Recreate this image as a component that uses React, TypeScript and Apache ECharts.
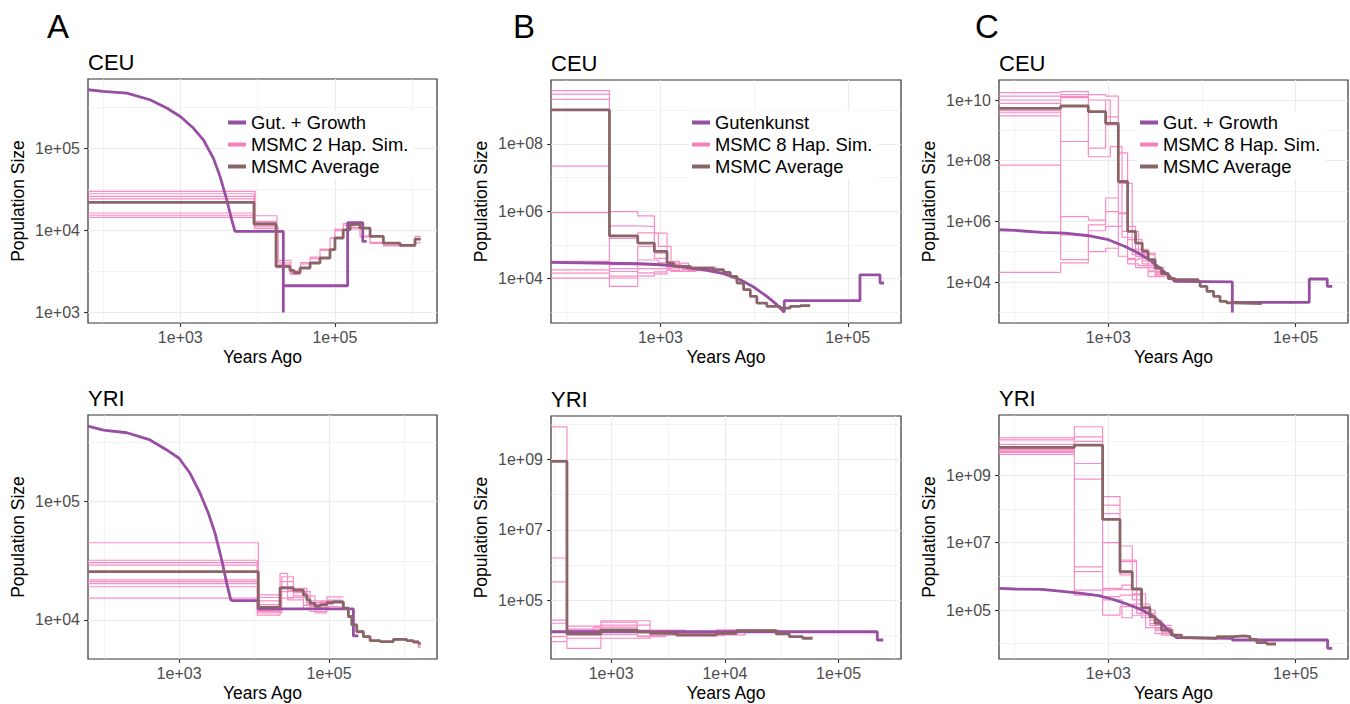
import React, { useEffect, useRef } from 'react';
import * as echarts from 'echarts';

// ================= DATA (years ago, population size) =================
// ---------- Panel A, CEU ----------
const aCeuGrowthT = [64, 100, 203, 405, 667, 1000, 1473, 1986, 2673, 3266, 3985, 4625, 5100, 21500, 21500, 21500, 146000, 146000, 229000, 229000, 257000];
const aCeuGrowthN = [512000, 490000, 467000, 387000, 307000, 242000, 175000, 126000, 75500, 45200, 23500, 13400, 9660, 9660, 1000, 2110, 2110, 12400, 12400, 7300, 7300];
const aCeuAvgT = [64, 8970, 17300, 26200, 29500, 35400, 47700, 64100, 86400, 100000, 128000, 157000, 173000, 211000, 285000, 423000, 696000, 1086000, 1288000];
const aCeuAvgN = [21800, 11900, 3630, 3240, 3050, 3470, 3990, 4590, 5800, 8040, 10100, 11700, 11900, 10600, 8400, 6980, 6530, 7810];
const aCeuRepT = [
  [64, 9300, 17800, 27000, 36000, 47700, 64100, 86400, 100000, 128000, 157000, 211000, 285000, 423000, 696000, 1086000, 1288000],
  [64, 9000, 17300, 26200, 36000, 47700, 64100, 86400, 100000, 128000, 157000, 211000, 285000, 423000, 696000, 1086000, 1288000],
  [64, 8970, 17300, 26200, 36000],
  [64, 9300, 18500, 27000, 36000],
  [64, 8970, 17300, 26200, 36000],
  [64, 9100, 17800, 26200, 36000],
  [64, 8970, 17300, 26200, 36000],
];
const aCeuRepN = [
  [29700, 15000, 4300, 3100, 3900, 4500, 5700, 8000, 10300, 12000, 10800, 8500, 7100, 6600, 6600, 8400],
  [27800, 12500, 3700, 3000, 4050, 4700, 5900, 8100, 9900, 11500, 10400, 8300, 6900, 6450, 6450, 7000],
  [25800, 11600, 3600, 3100],
  [24000, 11000, 4000, 2900],
  [16200, 12800, 3500, 3200],
  [15200, 10500, 3800, 3000],
  [14300, 11900, 3550, 3100],
];

// ---------- Panel A, YRI ----------
const aYriGrowthT = [61, 98, 201, 410, 685, 1000, 1400, 1905, 2460, 3020, 3710, 4320, 4890, 5100, 11300, 11300, 211000, 211000, 246000];
const aYriGrowthN = [436000, 403000, 383000, 333000, 274000, 233000, 174000, 118000, 79800, 54000, 32100, 20400, 14800, 14600, 14600, 12400, 12400, 7330, 7330];
const aYriAvgT = [61, 11400, 22200, 33400, 45400, 50500, 55800, 65000, 75800, 93100, 114000, 155000, 181000, 201000, 234000, 287000, 352000, 479000, 720000, 1086000, 1330000, 1552000, 1670000];
const aYriAvgN = [25600, 12800, 18700, 17900, 16300, 14800, 13800, 13100, 13400, 14000, 14200, 12600, 10700, 9080, 7960, 7230, 6690, 6570, 6870, 6690, 6500, 6350];
const aYriRepT = [
  [61, 11400, 22200, 28000, 50000, 95000, 150000, 181000, 201000, 234000, 287000, 352000, 479000, 720000, 1086000, 1552000, 1670000],
  [61, 11000, 23400, 33400, 55800, 93100, 140000, 181000, 201000, 234000, 287000, 352000, 479000, 720000, 1086000, 1552000, 1670000],
  [61, 11400, 22200, 28000, 45400, 75800, 114000],
  [61, 11400, 23400, 33400, 65000, 93100, 155000],
  [61, 11400, 22200, 28000, 55800, 75800, 114000],
  [61, 11000, 22200, 33400, 50500, 75800, 114000],
  [61, 11400, 23400, 28000, 45400, 65000, 100000],
  [61, 11400, 22200, 33400, 55800, 93100, 140000],
  [61, 11400, 22200, 33400, 50500, 75800, 114000],
];
const aYriRepN = [
  [45000, 15500, 24800, 18500, 14000, 14700, 12800, 10900, 9200, 8100, 7300, 6750, 6600, 6900, 6700, 6100],
  [32000, 11500, 23200, 17400, 14500, 13000, 12400, 10500, 9000, 7800, 7150, 6650, 6500, 6800, 6650, 5870],
  [30500, 13500, 21100, 17800, 12400, 14200],
  [29100, 12000, 19100, 16000, 11500, 15700],
  [21800, 14500, 17400, 15500, 13000, 13800],
  [21100, 11000, 15300, 18500, 13500, 14000],
  [20300, 12500, 19100, 14800, 13300, 12800],
  [19100, 16300, 21100, 16000, 11800, 14500],
  [15300, 11800, 17400, 17000, 13500, 13600],
];

// ---------- Panel B, CEU ----------
const bCeuGutT = [68, 612, 1000, 1387, 3150, 4730, 7130, 9880, 13700, 17500, 21000, 21000, 135000, 135000, 221000, 221000, 244000];
const bCeuGutN = [30400, 27800, 26000, 24300, 17600, 14100, 9330, 5680, 2990, 1700, 1005, 2230, 2230, 13100, 13100, 7470, 7470];
const bCeuAvgT = [68, 286, 573, 863, 1178, 1387, 2090, 3700, 4730, 5570, 6570, 7730, 9120, 10700, 13700, 19000, 24300, 31100, 39700];
const bCeuAvgN = [1.02e9, 188000, 114000, 64400, 29200, 23200, 20700, 18500, 15400, 11700, 7470, 4720, 2990, 1900, 1510, 1350, 1510, 1585];
const bCeuRepT = [
  [68, 286, 573, 863, 1178, 1700, 3000],
  [68, 286, 573, 863, 1178, 1600, 3000],
  [68, 286, 573, 950, 1300, 2000, 3200],
  [68, 286, 573, 863, 1178, 2000, 3700],
  [68, 286, 573, 950, 1178, 1600, 4000],
  [68, 286, 573, 863, 1300, 2400, 4000],
  [68, 286, 573, 863, 1178, 2000, 3500],
  [68, 286, 573, 863, 1178, 1700, 3000],
  [68, 286, 573, 950, 1300, 2400, 3700],
];
const bCeuRepN = [
  [3.8e9, 986000, 736000, 226000, 26000, 19000],
  [3.0e9, 372000, 355000, 57500, 32600, 21000],
  [2.1e9, 158000, 230000, 90600, 23200, 17500],
  [2.2e7, 26000, 91000, 40000, 29200, 20000],
  [920000, 16400, 36000, 30000, 18000, 22000],
  [32600, 10500, 20000, 20000, 16400, 19000],
  [18300, 5900, 15000, 16000, 24000, 18000],
  [14600, 20000, 12000, 14000, 21000, 22000],
  [10400, 12000, 26000, 25000, 17000, 20000],
];

// ---------- Panel B, YRI ----------
const bYriGutT = [297, 219000, 219000, 247000];
const bYriGutN = [12600, 12600, 7340, 7340];
const bYriAvgT = [297, 409, 813, 1700, 2200, 3760, 8410, 12600, 28200, 36900, 48300, 59100];
const bYriAvgN = [8.95e8, 10900, 14100, 12600, 11400, 10200, 11400, 13500, 10900, 9120, 8230];
const bYriRepT = [
  [297, 409, 813, 1700, 3760, 12600, 28200],
  [297, 409, 813, 2200, 4500, 15000, 30000],
  [297, 409, 813, 1700, 3000, 8400, 25000],
  [297, 409, 813, 2200, 3760, 10000, 28200],
  [297, 409, 813, 1700, 4500, 12600, 30000],
  [297, 409, 813, 2200, 3760, 8400, 25000],
  [297, 409, 700, 1700, 3000, 10000, 28200],
  [297, 409, 813, 2200, 4500, 15000, 30000],
];
const bYriRepN = [
  [8.5e9, 18200, 23600, 12600, 11000, 14500],
  [1.58e6, 14100, 19500, 10000, 12500, 13000],
  [330000, 10200, 12600, 9100, 10500, 14000],
  [27000, 8230, 8230, 11500, 9800, 13800],
  [22000, 4260, 10500, 14100, 11000, 12800],
  [12600, 11400, 25900, 12000, 9500, 14200],
  [9100, 12600, 17000, 9500, 10800, 13200],
  [6600, 15000, 14000, 13000, 10200, 14000],
];

// ---------- Panel C, CEU ----------
const cCeuGrowthT = [68, 101, 195, 345, 612, 1000, 1507, 2090, 2900, 3700, 4550, 5140, 21100, 21100, 21100, 140000, 140000, 218000, 218000, 246000];
const cCeuGrowthN = [530000, 502000, 431000, 412000, 336000, 248000, 149000, 90500, 48000, 25600, 15400, 10500, 10100, 1000, 2150, 2150, 12600, 12600, 7230, 7230];
const cCeuAvgT = [68, 310, 612, 936, 1279, 1607, 1954, 2303, 2665, 3160, 3700, 4365, 5180, 9120, 9550, 11300, 13300, 15600, 18400, 21700, 43500];
const cCeuAvgN = [5.34e9, 6.35e9, 4.12e9, 1.71e9, 2.06e7, 466000, 193000, 102000, 54600, 29100, 18900, 12900, 12000, 10500, 7230, 4950, 3390, 2320, 2050, 1950];
const cCeuRepT = [
  [68, 310, 612, 936, 1279, 1607, 1954, 2665, 4000],
  [68, 310, 612, 936, 1279, 1800, 2300, 3160, 4500],
  [68, 310, 612, 936, 1279, 1607, 2100, 2665, 4000],
  [68, 310, 612, 1050, 1400, 1800, 2300, 3160, 4500],
  [68, 310, 612, 936, 1279, 1607, 1954, 2665, 4000],
  [68, 310, 612, 936, 1279, 1607, 2100, 3160, 4500],
  [68, 310, 612, 936, 1400, 1800, 2300, 2665, 4000],
  [68, 310, 612, 936, 1279, 1607, 1954, 2665, 4000],
  [68, 310, 612, 1050, 1279, 1607, 2100, 3160, 4500],
];
const cCeuRepN = [
  [1.74e10, 1.9e10, 1.5e10, 1.35e10, 1.8e8, 6.8e5, 1.2e5, 2.5e4],
  [1.35e10, 1.5e10, 1.0e10, 2.8e9, 1.8e7, 2.5e5, 8.0e4, 2.0e4],
  [1.0e10, 1.2e10, 2.6e8, 1.5e9, 1.9e6, 5.5e4, 6.0e4, 3.0e4],
  [7.8e9, 4.3e8, 1.35e8, 2.9e8, 4.7e5, 1.2e5, 4.0e4, 1.8e4],
  [3.8e9, 1.44e6, 1.1e6, 5.9e6, 1.8e6, 2.5e5, 7.0e4, 2.2e4],
  [2.98e9, 3.6e5, 7.7e5, 2.1e6, 7.1e4, 4.0e4, 3.5e4, 1.6e4],
  [7.2e7, 5.5e4, 4.9e5, 6.8e5, 3.0e5, 8.0e4, 5.0e4, 2.5e4],
  [20900, 4.3e4, 1.0e5, 1.3e5, 7.1e4, 6.0e4, 3.0e4, 1.5e4],
  [4.5e9, 1.3e10, 1.0e10, 1.5e9, 2.0e7, 4.7e5, 9.0e4, 2.0e4],
];

// ---------- Panel C, YRI ----------
const cYriGrowthT = [68, 101, 195, 345, 519, 782, 1084, 1507, 2090, 2900, 3700, 4550, 5350, 21100, 21100, 220000, 220000, 246000];
const cYriGrowthN = [440000, 419000, 410000, 349000, 313000, 265000, 212000, 158000, 112000, 71100, 40300, 22800, 15100, 14500, 12900, 12900, 7330, 7330];
const cYriAvgT = [68, 434, 869, 1333, 1803, 2266, 2780, 3160, 3700, 4730, 6040, 7480, 14400, 21700, 27700, 32700, 38500, 49200, 61800];
const cYriAvgN = [6.6e9, 7.74e9, 4.86e7, 1.36e6, 419000, 117000, 63200, 40300, 25500, 18100, 15100, 14500, 16200, 17000, 16200, 13500, 10800, 9840];
const cYriRepT = [
  [68, 434, 869, 1333, 1803, 2266, 3160, 4730],
  [68, 434, 869, 1333, 2000, 2780, 3700, 5000],
  [68, 434, 869, 1333, 1803, 2266, 3160, 4730],
  [68, 434, 869, 1400, 1803, 2500, 3160, 4730],
  [68, 434, 869, 1333, 2000, 2780, 3700, 5000],
  [68, 434, 869, 1333, 1803, 2266, 3160, 4730],
  [68, 434, 869, 1400, 1803, 2500, 3700, 5000],
  [68, 434, 869, 1333, 1803, 2266, 3160, 4730],
  [68, 434, 869, 1333, 2000, 2780, 3700, 5000],
];
const cYriRepN = [
  [1.26e10, 2.7e10, 2.3e8, 7.9e6, 4.0e5, 8.0e4, 3.0e4],
  [1.1e10, 1.35e10, 1.29e8, 2.7e6, 1.5e5, 5.0e4, 2.5e4],
  [8.1e9, 1.0e10, 7.2e7, 1.1e6, 2.75e5, 1.0e5, 3.5e4],
  [5.5e9, 2.2e9, 4.4e5, 5.5e5, 3.0e5, 6.0e4, 2.0e4],
  [4.7e9, 7.6e8, 2.5e5, 2.75e5, 1.0e5, 4.0e4, 2.2e4],
  [4.1e9, 1.9e6, 7.1e4, 1.26e5, 7.0e4, 6.0e4, 2.8e4],
  [7.0e9, 1.38e6, 2.0e5, 5.9e4, 1.5e5, 3.0e4, 2.0e4],
  [6.0e9, 3.9e5, 4.0e5, 4.0e5, 2.0e5, 7.0e4, 2.5e4],
  [5.0e9, 2.75e5, 1.0e7, 3.0e6, 8.0e4, 3.5e4, 1.8e4],
];

// tick labels / grid breaks
const xBreaksAC = [1e3, 1e5];
const xBreaksBYri = [1e3, 1e4, 1e5];

// ================= STYLE =================
const FONT = '"Liberation Sans", Arial, Helvetica, sans-serif';
const PURPLE = '#984EA3';
const PINK = '#F781BF';
const BROWN = '#8B6468';
const GRIDC = '#EBEBEB';

type Panel = {
  left: number; top: number; width: number; height: number;
  xRange: number[]; yRange: number[];
  xMajor: number[]; xMinor: number[]; yMajor: number[]; yMinor: number[];
  gutName: string; simName: string; title: string;
  gutT: number[]; gutN: number[]; avgT: number[]; avgN: number[];
  repT: number[][]; repN: number[][];
  legend?: { left: number; top: number };
};

const h = (e: number) => Math.pow(10, e);

const panels: Panel[] = [
  {
    left: 88, top: 79, width: 349, height: 244, title: 'CEU',
    xRange: [64, 2.09e6], yRange: [743, 6.92e5],
    xMajor: xBreaksAC, xMinor: [1e2, 1e4, 1e6], yMajor: [1e3, 1e4, 1e5], yMinor: [h(3.5), h(4.5), h(5.5)],
    gutName: 'Gut. + Growth', simName: 'MSMC 2 Hap. Sim.',
    gutT: aCeuGrowthT, gutN: aCeuGrowthN, avgT: aCeuAvgT, avgN: aCeuAvgN, repT: aCeuRepT, repN: aCeuRepN,
    legend: { left: 225, top: 110.5 },
  },
  {
    left: 551, top: 80, width: 350, height: 243, title: 'CEU',
    xRange: [68, 3.7e5], yRange: [486, 7.87e9],
    xMajor: xBreaksAC, xMinor: [1e2, 1e4], yMajor: [1e4, 1e6, 1e8], yMinor: [1e3, 1e5, 1e7, 1e9],
    gutName: 'Gutenkunst', simName: 'MSMC 8 Hap. Sim.',
    gutT: bCeuGutT, gutN: bCeuGutN, avgT: bCeuAvgT, avgN: bCeuAvgN, repT: bCeuRepT, repN: bCeuRepN,
    legend: { left: 689, top: 110.5 },
  },
  {
    left: 999, top: 80, width: 349, height: 243, title: 'CEU',
    xRange: [68, 3.63e5], yRange: [447, 4.57e10],
    xMajor: xBreaksAC, xMinor: [1e2, 1e4], yMajor: [1e4, 1e6, 1e8, 1e10], yMinor: [1e3, 1e5, 1e7, 1e9],
    gutName: 'Gut. + Growth', simName: 'MSMC 8 Hap. Sim.',
    gutT: cCeuGrowthT, gutN: cCeuGrowthN, avgT: cCeuAvgT, avgN: cCeuAvgN, repT: cCeuRepT, repN: cCeuRepN,
    legend: { left: 1137, top: 110.5 },
  },
  {
    left: 88, top: 415, width: 349, height: 244, title: 'YRI',
    xRange: [61, 2.75e6], yRange: [4680, 5.41e5],
    xMajor: xBreaksAC, xMinor: [1e2, 1e4, 1e6], yMajor: [1e4, 1e5], yMinor: [h(4.5), h(5.5)],
    gutName: 'Gut. + Growth', simName: 'MSMC 2 Hap. Sim.',
    gutT: aYriGrowthT, gutN: aYriGrowthN, avgT: aYriAvgT, avgN: aYriAvgN, repT: aYriRepT, repN: aYriRepN,
  },
  {
    left: 551, top: 416, width: 350, height: 243, title: 'YRI',
    xRange: [296, 3.54e5], yRange: [2110, 1.74e10],
    xMajor: xBreaksBYri, xMinor: [h(2.5), h(3.5), h(4.5), h(5.5)], yMajor: [1e5, 1e7, 1e9], yMinor: [1e4, 1e6, 1e8, 1e10],
    gutName: 'Gutenkunst', simName: 'MSMC 8 Hap. Sim.',
    gutT: bYriGutT, gutN: bYriGutN, avgT: bYriAvgT, avgN: bYriAvgN, repT: bYriRepT, repN: bYriRepN,
  },
  {
    left: 999, top: 415, width: 349, height: 244, title: 'YRI',
    xRange: [68, 3.63e5], yRange: [3530, 6.03e10],
    xMajor: xBreaksAC, xMinor: [1e2, 1e4], yMajor: [1e5, 1e7, 1e9], yMinor: [1e4, 1e6, 1e8, 1e10],
    gutName: 'Gut. + Growth', simName: 'MSMC 8 Hap. Sim.',
    gutT: cYriGrowthT, gutN: cYriGrowthN, avgT: cYriAvgT, avgN: cYriAvgN, repT: cYriRepT, repN: cYriRepN,
  },
];

const pts = (t: number[], n: number[]) => t.map((x, i) => [x, n[i]]);
const stepPts = (t: number[], n: number[]) => t.map((x, i) => [x, n[Math.min(i, n.length - 1)]]);
// all replicate runs of one panel, separated by gaps
const repPts = (ts: number[][], ns: number[][]) => {
  const out: any[] = [];
  ts.forEach((t, k) => {
    if (k > 0) out.push(['-', '-']);
    stepPts(t, ns[k]).forEach((q) => out.push(q));
  });
  return out;
};
const sci = (v: number) => {
  const e = Math.round(Math.log10(v));
  return '1e+' + (e < 10 ? '0' + e : String(e));
};

function buildOption() {
  const grid: any[] = [];
  const xAxis: any[] = [];
  const yAxis: any[] = [];
  const series: any[] = [];
  const legend: any[] = [];
  const graphic: any[] = [];

  panels.forEach((p, i) => {
    grid.push({
      left: p.left, top: p.top, width: p.width, height: p.height,
      show: true, borderColor: '#333333', borderWidth: 1.2, backgroundColor: '#fff',
    });
    xAxis.push({
      type: 'log', logBase: 10, gridIndex: i, min: p.xRange[0], max: p.xRange[1], position: 'bottom',
      axisLine: { show: false },
      axisTick: { show: true, customValues: p.xMajor, length: 4, lineStyle: { color: '#333333', width: 1.1 } },
      axisLabel: { show: true, customValues: p.xMajor, formatter: sci, color: '#4D4D4D', fontSize: 16, fontFamily: FONT, margin: 6 },
      splitLine: { show: true, lineStyle: { color: GRIDC, width: 1.2 } },
      minorTick: { show: false }, minorSplitLine: { show: false },
      name: 'Years Ago', nameLocation: 'middle', nameGap: 25,
      nameTextStyle: { fontSize: 17.5, color: '#000', fontFamily: FONT },
    });
    xAxis.push({
      type: 'log', logBase: 10, gridIndex: i, min: p.xRange[0], max: p.xRange[1], position: 'top',
      axisLine: { show: false },
      axisTick: { show: false, customValues: p.xMinor },
      axisLabel: { show: false, customValues: p.xMinor },
      splitLine: { show: true, lineStyle: { color: GRIDC, width: 0.6 } },
    });
    yAxis.push({
      type: 'log', logBase: 10, gridIndex: i, min: p.yRange[0], max: p.yRange[1], position: 'left',
      axisLine: { show: false },
      axisTick: { show: true, customValues: p.yMajor, length: 4, lineStyle: { color: '#333333', width: 1.1 } },
      axisLabel: { show: true, customValues: p.yMajor, formatter: sci, color: '#4D4D4D', fontSize: 16, fontFamily: FONT, margin: 8 },
      splitLine: { show: true, lineStyle: { color: GRIDC, width: 1.2 } },
      minorTick: { show: false }, minorSplitLine: { show: false },
      name: 'Population Size', nameLocation: 'middle', nameGap: 61,
      nameTextStyle: { fontSize: 17.5, color: '#000', fontFamily: FONT },
    });
    yAxis.push({
      type: 'log', logBase: 10, gridIndex: i, min: p.yRange[0], max: p.yRange[1], position: 'right',
      axisLine: { show: false },
      axisTick: { show: false, customValues: p.yMinor },
      axisLabel: { show: false, customValues: p.yMinor },
      splitLine: { show: true, lineStyle: { color: GRIDC, width: 0.6 } },
    });

    const xi = 2 * i;
    const yi = 2 * i;
    series.push({
      type: 'line', name: p.simName, xAxisIndex: xi, yAxisIndex: yi,
      data: repPts(p.repT, p.repN), step: 'end', symbol: 'none', showSymbol: false, silent: true,
      connectNulls: false,
      color: PINK, itemStyle: { color: PINK },
      lineStyle: { color: PINK, width: 1.2, opacity: 0.9 },
      emphasis: { disabled: true }, z: 2,
    });
    series.push({
      type: 'line', name: p.gutName, xAxisIndex: xi, yAxisIndex: yi,
      data: pts(p.gutT, p.gutN), symbol: 'none', showSymbol: false, silent: true,
      color: PURPLE, itemStyle: { color: PURPLE }, lineStyle: { color: PURPLE, width: 2.8 },
      emphasis: { disabled: true }, z: 3,
    });
    series.push({
      type: 'line', name: 'MSMC Average', xAxisIndex: xi, yAxisIndex: yi,
      data: stepPts(p.avgT, p.avgN), step: 'end', symbol: 'none', showSymbol: false, silent: true,
      color: BROWN, itemStyle: { color: BROWN }, lineStyle: { color: BROWN, width: 2.8 },
      emphasis: { disabled: true }, z: 4,
    });

    if (p.legend) {
      legend.push({
        show: true, orient: 'vertical', left: p.legend.left, top: p.legend.top,
        data: [p.gutName, p.simName, 'MSMC Average'],
        icon: 'rect', itemWidth: 18, itemHeight: 4, itemGap: 0,
        backgroundColor: '#fff', padding: [1, 5, 1, 3], selectedMode: false,
        textStyle: { fontSize: 18.4, lineHeight: 22, color: '#000', fontFamily: FONT },
      });
    }

    graphic.push({
      type: 'text', left: p.left, top: p.top - 28,
      style: { text: p.title, fontSize: 22, fontFamily: FONT, fill: '#000' },
    });
  });

  [['A', 47], ['B', 513], ['C', 975]].forEach(([t, x]) => {
    graphic.push({
      type: 'text', left: x as number, top: 10,
      style: { text: t as string, fontSize: 33, fontFamily: FONT, fill: '#000' },
    });
  });

  return { animation: false, backgroundColor: '#fff', grid, xAxis, yAxis, series, legend, graphic };
}

export default function App() {
  const ref = useRef<HTMLDivElement>(null);
  useEffect(() => {
    const chart = echarts.init(ref.current as HTMLDivElement, null, { renderer: 'svg' });
    chart.setOption(buildOption() as any);
    return () => chart.dispose();
  }, []);
  return (
    <div
      ref={ref}
      style={{ position: 'fixed', left: 0, top: 0, width: 1350, height: 704, background: '#fff' }}
    />
  );
}
